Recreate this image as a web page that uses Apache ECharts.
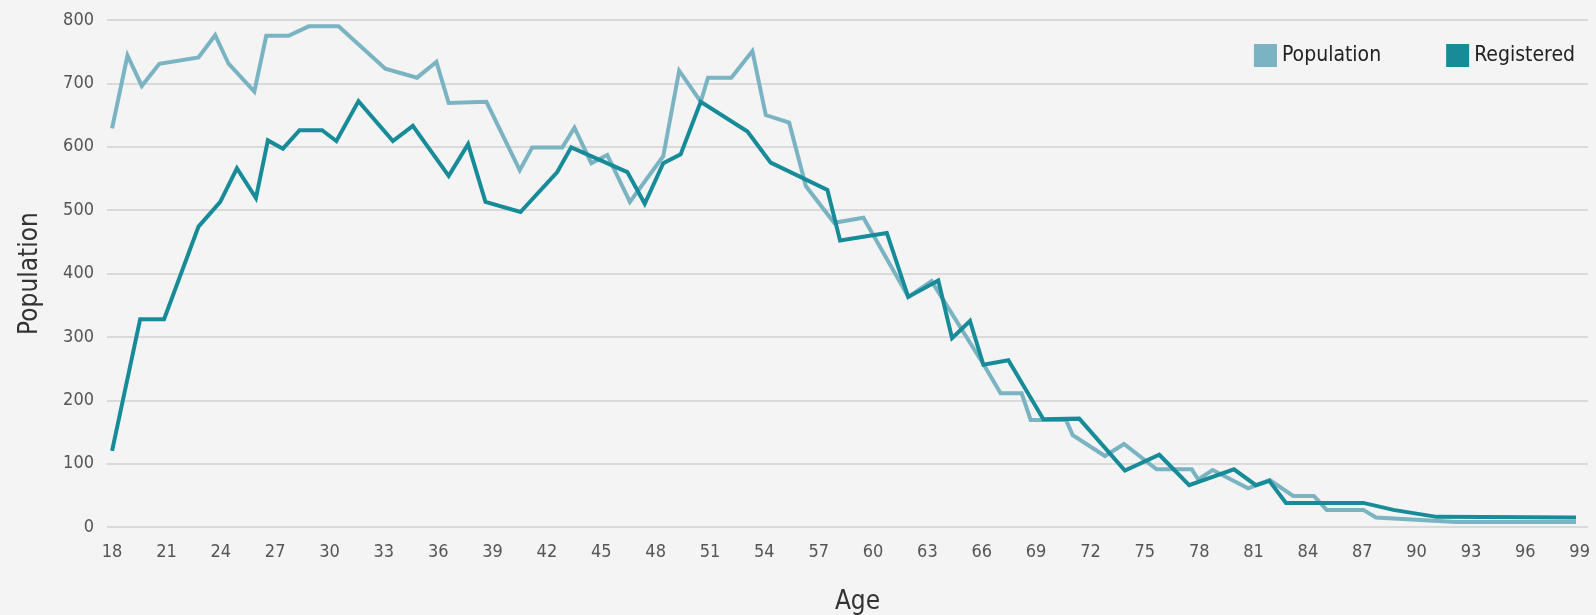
<!DOCTYPE html>
<html>
<head>
<meta charset="utf-8">
<script src="https://cdn.jsdelivr.net/npm/echarts@6/dist/echarts.min.js"></script>
<style>
  html, body { margin: 0; padding: 0; background: #f4f4f4; }
  #chart { width: 1596px; height: 615px; }
</style>
</head>
<body>
<div id="chart"></div>
<script>
// ages are read off the picture, the vertices do not sit on whole years
const popAge = [18, 18.85, 19.64, 20.61, 22.77, 23.69, 24.43, 25.85, 26.51, 27.74, 28.85, 30.5,
  33.08, 34.83, 35.9, 36.58, 38.66, 40.5, 41.19, 42.85, 43.52, 44.45, 45.33, 46.58, 48.42,
  49.3, 50.49, 50.89, 52.18, 53.34, 54.08, 55.37, 56.29, 57.85, 59.47, 61.95, 63.23, 66.18,
  67.04, 68.2, 68.7, 70.65, 71.02, 72.8, 73.85, 75.65, 77.59, 77.95, 78.74, 80.7, 81.9,
  83.19, 84.33, 85.04, 87.06, 87.76, 92.2, 98.8];
const popVal = [629, 744, 696, 731, 741, 776, 731, 687, 775, 775, 790, 790,
  723, 709, 734, 669, 671, 563, 599, 599, 630, 574, 587, 513, 585,
  720, 671, 709, 709, 751, 650, 638, 538, 480, 488, 363, 388, 253,
  211, 211, 169, 169, 145, 112, 131, 91, 91, 75, 90, 61, 74,
  49, 49, 27, 27, 15, 8, 8];

const regAge = [18, 19.55, 20.87, 22.77, 23.97, 24.89, 25.94, 26.6, 27.43, 28.35, 29.59, 30.38,
  31.6, 33.5, 34.6, 36.58, 37.65, 38.61, 40.54, 42.57, 43.34, 46.44, 47.4, 48.42, 49.38,
  50.49, 53.07, 54.35, 57.48, 58.18, 60.76, 61.94, 63.6, 64.36, 65.35, 66.09, 67.47, 69.4,
  71.38, 73.9, 75.8, 77.45, 79.92, 81.13, 81.87, 82.79, 87.06, 88.72, 91.1, 98.8];
const regVal = [120, 328, 328, 474, 513, 566, 519, 610, 597, 626, 626, 609,
  672, 609, 633, 554, 604, 513, 497, 560, 599, 560, 510, 574, 588,
  671, 624, 575, 532, 452, 464, 363, 389, 298, 325, 256, 263, 170,
  171, 89, 114, 66, 91, 66, 73, 38, 38, 27, 16, 15];

const ageTicks = [18, 21, 24, 27, 30, 33, 36, 39, 42, 45, 48, 51, 54, 57, 60, 63, 66, 69,
  72, 75, 78, 81, 84, 87, 90, 93, 96, 99];

const FONT = "'Liberation Sans Narrow', 'DejaVu Sans Condensed', 'Roboto', sans-serif";

function zip(xs, ys) {
  return xs.map((x, i) => [x, ys[i]]);
}

const chart = echarts.init(document.getElementById('chart'));

chart.setOption({
  backgroundColor: '#f4f4f4',
  animation: false,
  textStyle: { fontFamily: FONT },
  legend: {
    top: 39,
    right: 16,
    itemWidth: 23,
    itemHeight: 23,
    itemGap: 65,
    icon: 'rect',
    textStyle: { fontSize: 21, color: '#222', fontFamily: FONT },
    data: [
      { name: 'Population', itemStyle: { color: '#7ab3c1' } },
      { name: 'Registered', itemStyle: { color: '#178c98' } }
    ]
  },
  grid: { left: 107, right: 8, top: 20, bottom: 88, outerBoundsMode: 'none' },
  xAxis: {
    type: 'value',
    min: 17.72,
    max: 99.46,
    name: 'Age',
    nameLocation: 'middle',
    nameGap: 62,
    nameTextStyle: { fontSize: 26, color: '#333', fontFamily: FONT, padding: [0, 0, 0, 20] },
    axisLine: { show: false },
    axisTick: { show: false },
    splitLine: { show: false },
    axisLabel: {
      customValues: ageTicks,
      margin: 16,
      fontSize: 18,
      color: '#555',
      fontFamily: FONT
    }
  },
  yAxis: {
    type: 'value',
    min: 0,
    max: 800,
    interval: 100,
    name: 'Population',
    nameLocation: 'middle',
    nameGap: 64,
    nameTextStyle: { fontSize: 26, color: '#333', fontFamily: FONT },
    axisLine: { show: false },
    axisTick: { show: false },
    axisLabel: { margin: 13, fontSize: 18, color: '#555', fontFamily: FONT },
    splitLine: { lineStyle: { color: '#d2d2d2', width: 1.5 } }
  },
  series: [
    {
      name: 'Population',
      type: 'line',
      data: zip(popAge, popVal),
      showSymbol: false,
      symbol: 'none',
      lineStyle: { color: '#7ab3c1', width: 4, join: 'miter' },
      itemStyle: { color: '#7ab3c1' }
    },
    {
      name: 'Registered',
      type: 'line',
      data: zip(regAge, regVal),
      showSymbol: false,
      symbol: 'none',
      lineStyle: { color: '#178c98', width: 4, join: 'miter' },
      itemStyle: { color: '#178c98' }
    }
  ]
});
</script>
</body>
</html>
